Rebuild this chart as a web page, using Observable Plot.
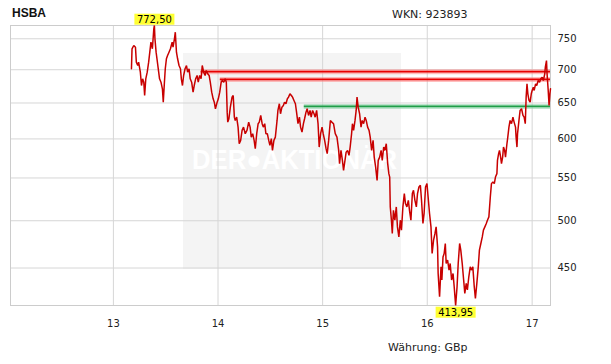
<!DOCTYPE html>
<html>
<head>
<meta charset="utf-8">
<script src="https://cdn.jsdelivr.net/npm/d3@7"></script>
<script src="https://cdn.jsdelivr.net/npm/@observablehq/plot@0.6"></script>
<style>
  body { margin: 0; background: #fff; }
  #wrap { position: relative; width: 611px; height: 364px; overflow: hidden; font-family: "DejaVu Sans", sans-serif; }
  #wm { position: absolute; left: 183px; top: 53px; width: 218px; height: 216px; background: #f4f4f4; z-index: 0; overflow: hidden; }
  #wm span { position: absolute; left: 9px; top: 94px; font: bold 27px "Liberation Sans", Arial, sans-serif; color: #fff; white-space: nowrap; transform: scaleX(0.95); transform-origin: left top; line-height: 27px; }
  #title { position: absolute; left: 12px; top: 7px; font: bold 12px "Liberation Sans", Arial, sans-serif; line-height: 12px; color: #111; z-index: 2; }
  #wkn { position: absolute; left: 392px; top: 9px; font: 11px "DejaVu Sans", sans-serif; line-height: 11px; color: #222; z-index: 2; }
  #cur { position: absolute; left: 388px; top: 342px; font: 11px "DejaVu Sans", sans-serif; line-height: 11px; color: #222; z-index: 2; }
  #wrap svg { position: absolute; left: 0; top: 0; z-index: 1; }
</style>
</head>
<body>
<div id="wrap">
  <div id="wm"><span>DER●AKTIONÄR</span></div>
  <div id="title">HSBA</div>
  <div id="wkn">WKN: 923893</div>
  <div id="cur">Währung: GBp</div>
</div>
<script>
// Closing quotes (GBp)
const quotes2013 = [
  ["2013-03-05",701.5],["2013-03-07",733.4],["2013-03-13",738.8],["2013-03-19",736.0],["2013-03-22",711.9],["2013-03-27",706.6],["2013-03-30",711.9],
  ["2013-04-05",696.2],["2013-04-09",675.8],["2013-04-13",686.0],["2013-04-17",680.8],["2013-04-20",661.0],["2013-04-24",686.0],["2013-04-29",696.2],
  ["2013-05-04",711.9],["2013-05-08",727.9],["2013-05-12",744.3],["2013-05-17",733.4],["2013-05-22",766.8],["2013-05-24",772.5],["2013-05-26",749.9],["2013-05-30",727.9],
  ["2013-06-02",717.3],["2013-06-08",696.2],["2013-06-11",686.0],["2013-06-16",680.8],["2013-06-21",670.9],["2013-06-24",651.2],["2013-06-28",680.8],
  ["2013-07-01",701.5],["2013-07-05",717.3],["2013-07-09",722.6],["2013-07-14",727.9],["2013-07-19",733.4],["2013-07-25",744.3],["2013-07-28",736.0],
  ["2013-08-02",749.9],["2013-08-05",761.1],["2013-08-09",727.9],["2013-08-13",717.3],["2013-08-18",706.6],["2013-08-23",701.5],["2013-08-26",686.0],["2013-08-30",675.8],
  ["2013-09-03",691.1],["2013-09-08",701.5],["2013-09-13",706.6],["2013-09-17",696.2],["2013-09-22",701.5],["2013-09-26",686.0],
  ["2013-10-01",680.8],["2013-10-06",665.8],["2013-10-10",675.8],["2013-10-15",686.0],["2013-10-20",691.1],["2013-10-24",680.8],["2013-10-29",691.1],
  ["2013-11-03",686.0],["2013-11-07",706.6],["2013-11-12",696.2],["2013-11-17",691.1],["2013-11-21",698.8],["2013-11-26",693.7],
  ["2013-12-01",691.1],["2013-12-05",680.8],["2013-12-10",665.8],["2013-12-15",656.1],["2013-12-19",651.2],["2013-12-23",641.7],["2013-12-29",651.2]
];
const quotes2014 = [
  ["2014-01-02",656.1],["2014-01-07",665.8],["2014-01-12",680.8],["2014-01-16",683.4],["2014-01-21",680.8],["2014-01-26",686.0],["2014-01-30",680.8],
  ["2014-02-02",636.9],["2014-02-04",622.9],["2014-02-08",627.6],["2014-02-13",644.0],["2014-02-19",658.5],["2014-02-23",661.0],["2014-02-27",629.8],
  ["2014-03-02",625.2],["2014-03-07",629.8],["2014-03-12",616.0],["2014-03-16",593.6],["2014-03-21",598.0],["2014-03-26",611.5],["2014-03-31",616.0],
  ["2014-04-06",607.0],["2014-04-12",611.5],["2014-04-18",622.9],["2014-04-23",616.0],["2014-04-27",602.4],
  ["2014-05-02",607.0],["2014-05-07",598.0],["2014-05-11",587.1],["2014-05-16",607.0],["2014-05-21",620.7],["2014-05-25",622.9],["2014-05-30",632.2],
  ["2014-06-04",620.7],["2014-06-08",616.0],["2014-06-13",620.7],["2014-06-17",607.0],["2014-06-22",607.0],["2014-06-27",598.0],
  ["2014-07-01",591.4],["2014-07-06",600.3],["2014-07-10",584.8],["2014-07-15",598.0],["2014-07-20",602.4],["2014-07-26",625.2],["2014-07-29",639.3],
  ["2014-08-03",648.9],["2014-08-07",634.6],["2014-08-12",644.0],["2014-08-17",646.4],["2014-08-21",651.2],["2014-08-26",648.9],["2014-08-31",656.1],
  ["2014-09-04",658.5],["2014-09-09",663.5],["2014-09-14",661.0],["2014-09-18",658.5],["2014-09-23",653.7],["2014-09-28",648.9],
  ["2014-10-02",636.9],["2014-10-07",620.7],["2014-10-12",629.8],["2014-10-16",616.0],["2014-10-21",609.2],["2014-10-26",620.7],["2014-10-30",627.6],
  ["2014-11-04",636.9],["2014-11-08",641.7],["2014-11-13",632.2],["2014-11-18",639.3],["2014-11-22",629.8],["2014-11-27",639.3],
  ["2014-12-02",634.6],["2014-12-06",629.8],["2014-12-11",639.3],["2014-12-16",620.7],["2014-12-20",589.2],["2014-12-25",607.0],["2014-12-30",616.0]
];
const quotes2015 = [
  ["2015-01-03",607.0],["2015-01-08",598.0],["2015-01-13",587.1],["2015-01-17",580.6],["2015-01-22",598.0],["2015-01-28",625.2],
  ["2015-02-03",622.5],["2015-02-08",620.7],["2015-02-14",607.0],["2015-02-20",602.4],["2015-02-26",584.8],
  ["2015-03-01",567.8],["2015-03-06",584.8],["2015-03-11",572.0],["2015-03-15",559.4],["2015-03-20",572.0],["2015-03-24",582.6],["2015-03-29",584.8],
  ["2015-04-03",578.4],["2015-04-07",589.2],["2015-04-12",607.0],["2015-04-15",620.7],["2015-04-19",611.5],["2015-04-24",625.2],["2015-04-28",639.3],
  ["2015-05-01",658.5],["2015-05-05",644.0],["2015-05-10",634.6],["2015-05-15",616.0],["2015-05-19",625.2],["2015-05-24",620.7],["2015-05-29",629.8],
  ["2015-06-02",625.2],["2015-06-07",616.0],["2015-06-12",611.5],["2015-06-16",602.4],["2015-06-21",584.8],["2015-06-26",598.0],["2015-06-30",576.2],
  ["2015-07-05",563.5],["2015-07-10",547.1],["2015-07-14",572.0],["2015-07-19",576.2],["2015-07-24",584.8],["2015-07-28",572.0],
  ["2015-08-02",589.2],["2015-08-06",584.8],["2015-08-11",593.6],["2015-08-16",567.8],["2015-08-20",555.3],["2015-08-23",551.1],["2015-08-25",515.6],["2015-08-29",500.6],
  ["2015-09-01",486.0],["2015-09-05",511.8],["2015-09-10",500.6],["2015-09-15",515.6],["2015-09-19",493.2],["2015-09-24",482.3],["2015-09-29",500.6],
  ["2015-10-03",489.6],["2015-10-08",515.6],["2015-10-13",531.2],["2015-10-17",519.5],["2015-10-22",515.6],["2015-10-27",523.3],["2015-10-31",511.8],
  ["2015-11-05",500.6],["2015-11-10",531.2],["2015-11-14",535.1],["2015-11-19",523.3],["2015-11-24",515.6],["2015-11-28",531.2],
  ["2015-12-03",539.0],["2015-12-08",541.1],["2015-12-12",523.3],["2015-12-17",496.9],["2015-12-21",508.1],["2015-12-26",539.0],["2015-12-31",543.1]
];
const quotes2016 = [
  ["2016-01-04",527.2],["2016-01-09",508.1],["2016-01-14",493.2],["2016-01-18",464.8],["2016-01-23",478.8],["2016-01-28",486.0],
  ["2016-02-01",493.2],["2016-02-06",471.7],["2016-02-08",444.6],["2016-02-13",422.1],["2016-02-18",451.2],["2016-02-21",438.1],["2016-02-25",461.3],["2016-02-29",464.8],
  ["2016-03-04",475.3],["2016-03-07",454.6],["2016-03-12",458.0],["2016-03-17",447.9],["2016-03-21",454.6],["2016-03-26",438.1],["2016-03-31",444.6],
  ["2016-04-04",431.6],["2016-04-09",413.95],["2016-04-14",431.6],["2016-04-18",454.6],["2016-04-23",475.3],["2016-04-27",468.3],
  ["2016-05-02",454.6],["2016-05-07",438.1],["2016-05-11",425.3],["2016-05-16",434.9],["2016-05-20",428.5],["2016-05-25",441.3],["2016-05-30",451.2],
  ["2016-06-03",447.9],["2016-06-08",451.2],["2016-06-13",431.6],["2016-06-17",420.6],["2016-06-22",434.9],["2016-06-27",451.2],
  ["2016-07-01",468.3],["2016-07-06",475.3],["2016-07-11",482.3],["2016-07-15",489.6],["2016-07-20",493.2],["2016-07-25",496.9],["2016-07-29",500.6],
  ["2016-08-03",504.3],["2016-08-08",527.2],["2016-08-12",543.1],["2016-08-17",545.1],["2016-08-22",543.1],["2016-08-26",551.1],["2016-08-31",555.3],
  ["2016-09-02",572.0],["2016-09-06",580.6],["2016-09-09",584.8],["2016-09-13",576.2],["2016-09-16",567.8],["2016-09-20",576.2],["2016-09-23",589.2],["2016-09-27",584.8],["2016-09-30",576.2],
  ["2016-10-05",593.6],["2016-10-08",602.4],["2016-10-12",616.0],["2016-10-16",625.2],["2016-10-21",620.7],["2016-10-26",629.8],["2016-10-30",622.9],
  ["2016-11-04",616.0],["2016-11-06",602.4],["2016-11-09",589.2],["2016-11-11",607.0],["2016-11-16",625.2],["2016-11-20",639.3],["2016-11-25",641.7],["2016-11-30",632.2],
  ["2016-12-04",629.8],["2016-12-08",620.7],["2016-12-11",658.5],["2016-12-14",678.4],["2016-12-17",663.5],["2016-12-21",653.7],["2016-12-25",651.2],["2016-12-29",663.5]
];
const quotes2017 = [
  ["2017-01-01",668.4],["2017-01-05",673.3],["2017-01-08",668.4],["2017-01-13",678.4],["2017-01-17",675.8],["2017-01-22",683.4],["2017-01-27",680.8],["2017-01-31",686.0],
  ["2017-02-05",688.5],["2017-02-09",683.4],["2017-02-14",693.7],["2017-02-16",704.0],["2017-02-20",714.5],["2017-02-22",693.7],["2017-02-26",668.4],
  ["2017-03-01",646.4],["2017-03-04",663.5],["2017-03-06",670.9]
];

// Horizontal resistance / support lines
const resistanceLevels = [697, 685];
const resistanceStarts = ["2013-11-03", "2014-01-09"];
const supportLevels = [645];
const supportStarts = ["2014-10-29"];

// Axes
const xDomain = ["2012-01-08", "2017-03-06"];
const yearTicks = ["2013-01-01", "2014-01-01", "2015-01-01", "2016-01-01", "2017-01-01"];
const priceTicks = [450, 500, 550, 600, 650, 700, 750];

const series = [...quotes2013, ...quotes2014, ...quotes2015, ...quotes2016, ...quotes2017]
  .map(([d, p]) => ({date: new Date(d), price: p}));
const xStart = new Date(xDomain[0]);
const xEnd = new Date(xDomain[1]);
const resistance = resistanceLevels.map((v, i) => ({value: v, start: new Date(resistanceStarts[i])}));
const support = supportLevels.map((v, i) => ({value: v, start: new Date(supportStarts[i])}));
const hi = d3.greatest(series, d => d.price);
const lo = d3.least(series, d => d.price);
const fmt = v => d3.format(".2f")(v).replace(".", ",");

const levelMarks = (data, halo, core) => [
  Plot.ruleY(data, {y: "value", x1: "start", x2: () => xEnd, stroke: halo, strokeOpacity: 0.5, strokeWidth: 5}),
  Plot.ruleY(data, {y: "value", x1: "start", x2: () => xEnd, stroke: core, strokeWidth: 1.8})
];

const svg = Plot.plot({
  width: 611,
  height: 364,
  marginTop: 25,
  marginBottom: 59,
  marginLeft: 10,
  marginRight: 61,
  style: {background: "transparent", fontFamily: "DejaVu Sans, sans-serif", fontSize: "10px", color: "#222"},
  x: {type: "utc", domain: [xStart, xEnd]},
  y: {type: "log", domain: [lo.price, hi.price]},
  marks: [
    Plot.gridY(priceTicks, {stroke: "#d6d6d6", strokeOpacity: 1}),
    Plot.gridX(yearTicks.map(d => new Date(d)), {stroke: "#d6d6d6", strokeOpacity: 1}),
    Plot.frame({stroke: "#cccccc"}),
    ...levelMarks(resistance, "#ff8080", "#e80000"),
    ...levelMarks(support, "#80d0a0", "#1f9e48"),
    Plot.lineY(series, {x: "date", y: "price", stroke: "#c80000", strokeWidth: 1.5, strokeLinejoin: "miter"}),
    Plot.text([hi], {x: "date", y: "price", text: d => fmt(d.price), dy: -6, fill: "#000", fontSize: 10}),
    Plot.text([lo], {x: "date", y: "price", text: d => fmt(d.price), dy: 7, fill: "#000", fontSize: 10}),
    Plot.axisY(priceTicks, {anchor: "right", tickSize: 0, tickPadding: 7, label: null, tickFormat: d => String(d)}),
    Plot.axisX(yearTicks.map(d => new Date(d)), {anchor: "bottom", tickSize: 0, tickPadding: 14, label: null, tickFormat: d3.utcFormat("%y")})
  ]
});
document.getElementById("wrap").appendChild(svg);

// yellow boxes behind the extreme labels
svg.querySelectorAll('g[aria-label="text"] text').forEach(t => {
  const b = t.getBBox();
  const r = document.createElementNS("http://www.w3.org/2000/svg", "rect");
  r.setAttribute("x", b.x - 2.5);
  r.setAttribute("y", b.y);
  r.setAttribute("width", b.width + 5);
  r.setAttribute("height", b.height);
  r.setAttribute("fill", "#ffff33");
  const tr = t.getAttribute("transform");
  if (tr) r.setAttribute("transform", tr);
  t.parentNode.insertBefore(r, t);
});
</script>
</body>
</html>
